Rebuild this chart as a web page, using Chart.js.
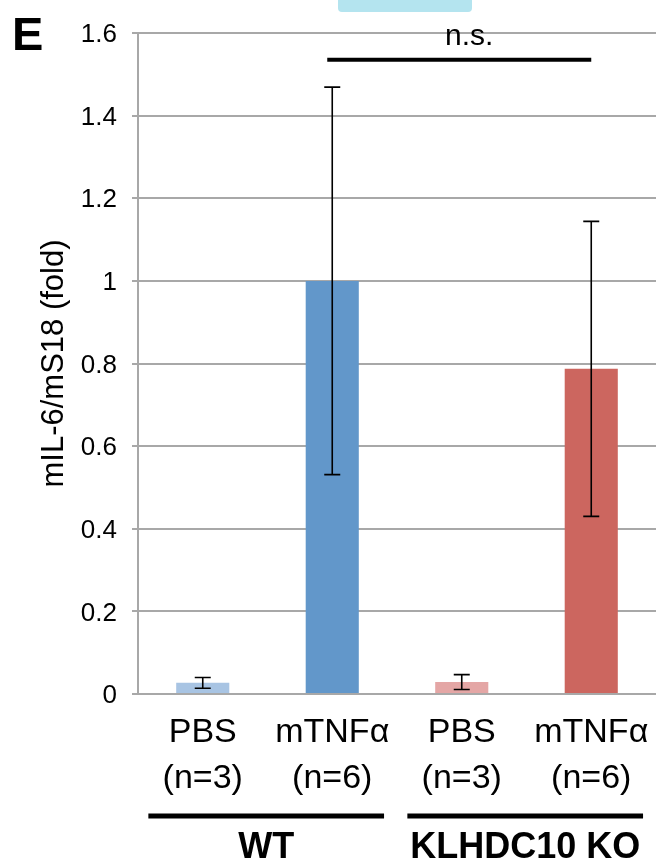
<!DOCTYPE html>
<html>
<head>
<meta charset="utf-8">
<script src="https://cdn.jsdelivr.net/npm/chart.js@4"></script>
<style>
    body { margin: 0; background: #fff; }
    canvas { display: block; }
</style>
</head>
<body>
<canvas id="barChart" width="659" height="864"></canvas>
<script>
// data
const categories = [['PBS', '(n=3)'], ['mTNF\u03b1', '(n=6)'], ['PBS', '(n=3)'], ['mTNF\u03b1', '(n=6)']];
const values = [0.027, 1.0, 0.029, 0.787];
const errors = [0.013, 0.469, 0.018, 0.357];
const yMin = 0, yMax = 1.6, yStep = 0.2;
const groupLabels = ['WT', 'KLHDC10 KO'];
const groupSpans = [[0, 1], [2, 3]];
const sigLabel = 'n.s.';
const sigPair = [1, 3];
const sigLevel = 1.535;

const barColors = ['#a8c4e3', '#6297ca', '#e4a6a5', '#cc665f'];
const FONT = '"Liberation Sans", Arial, Helvetica, sans-serif';

// error bars, significance bracket, group underlines and panel letter
const annotations = {
    id: 'annotations',
    afterDatasetsDraw: function(chart) {
        const ctx = chart.ctx;
        const x = chart.scales.x;
        const y = chart.scales.y;
        const meta = chart.getDatasetMeta(0);
        ctx.save();

        // error bars
        ctx.strokeStyle = '#000';
        ctx.lineWidth = 1.6;
        meta.data.forEach(function(bar, i) {
            const top = y.getPixelForValue(values[i] + errors[i]);
            const bot = y.getPixelForValue(values[i] - errors[i]);
            ctx.beginPath();
            ctx.moveTo(bar.x, top);
            ctx.lineTo(bar.x, bot);
            ctx.moveTo(bar.x - 8, top);
            ctx.lineTo(bar.x + 8, top);
            ctx.moveTo(bar.x - 8, bot);
            ctx.lineTo(bar.x + 8, bot);
            ctx.stroke();
        });

        // n.s. bracket
        const sy = y.getPixelForValue(sigLevel);
        const sx1 = x.getPixelForValue(sigPair[0]) - 5;
        const sx2 = x.getPixelForValue(sigPair[1]);
        ctx.lineWidth = 4;
        ctx.beginPath();
        ctx.moveTo(sx1, sy);
        ctx.lineTo(sx2, sy);
        ctx.stroke();
        ctx.fillStyle = '#000';
        ctx.font = '30px ' + FONT;
        ctx.textAlign = 'center';
        ctx.textBaseline = 'alphabetic';
        ctx.fillText(sigLabel, (sx1 + sx2) / 2 + 10, sy - 15);

        // group underlines
        const step = x.getPixelForValue(1) - x.getPixelForValue(0);
        groupSpans.forEach(function(span, g) {
            const gx1 = x.getPixelForValue(span[0]) - 0.42 * step;
            const gx2 = x.getPixelForValue(span[1]) + 0.40 * step;
            ctx.lineWidth = 5;
            ctx.beginPath();
            ctx.moveTo(gx1, 816);
            ctx.lineTo(gx2, 816);
            ctx.stroke();
            ctx.font = 'bold 36px ' + FONT;
            ctx.fillText(groupLabels[g], (gx1 + gx2) / 2, 858);
        });

        // panel letter
        ctx.textAlign = 'left';
        ctx.font = 'bold 47px ' + FONT;
        ctx.fillText('E', 12, 50);

        // cyan tab at the top edge
        ctx.fillStyle = '#b4e4ef';
        ctx.beginPath();
        ctx.roundRect(338, -6, 134, 18, 4);
        ctx.fill();

        ctx.restore();
    }
};

document.addEventListener('DOMContentLoaded', function() {
    const ctx = document.getElementById('barChart').getContext('2d');

    new Chart(ctx, {
        type: 'bar',
        data: {
            labels: categories,
            datasets: [{
                data: values,
                backgroundColor: barColors,
                borderWidth: 0,
                categoryPercentage: 1.0,
                barPercentage: 0.41
            }]
        },
        options: {
            responsive: false,
            animation: false,
            layout: {
                padding: { top: 33, right: 3, bottom: 0, left: 0 }
            },
            plugins: {
                legend: { display: false },
                tooltip: { enabled: false }
            },
            scales: {
                x: {
                    // invisible ticks give the label gap without side padding
                    grid: { display: true, drawOnChartArea: false, drawTicks: true, tickLength: 16, color: 'rgba(0,0,0,0)' },
                    border: { display: false },
                    ticks: {
                        color: '#000',
                        padding: 0,
                        maxRotation: 0,
                        autoSkip: false,
                        font: { family: FONT, size: 34, lineHeight: 1.35 }
                    },
                    afterFit: function(scale) {
                        scale.height = 170;
                    }
                },
                y: {
                    min: yMin,
                    max: yMax,
                    grid: { color: '#a8a8a8', lineWidth: 2, tickLength: 6 },
                    border: { display: true, color: '#a8a8a8', width: 2 },
                    ticks: {
                        stepSize: yStep,
                        color: '#000',
                        padding: 15,
                        labelOffset: 2,
                        font: { family: FONT, size: 26 },
                        callback: function(value) {
                            return String(+value.toFixed(1));
                        }
                    },
                    title: {
                        display: true,
                        text: 'mIL-6/mS18 (fold)',
                        color: '#000',
                        padding: { top: 36, bottom: 0 },
                        font: { family: FONT, size: 31 }
                    },
                    afterFit: function(scale) {
                        scale.width = 138;
                    }
                }
            }
        },
        plugins: [annotations]
    });
});
</script>
</body>
</html>
